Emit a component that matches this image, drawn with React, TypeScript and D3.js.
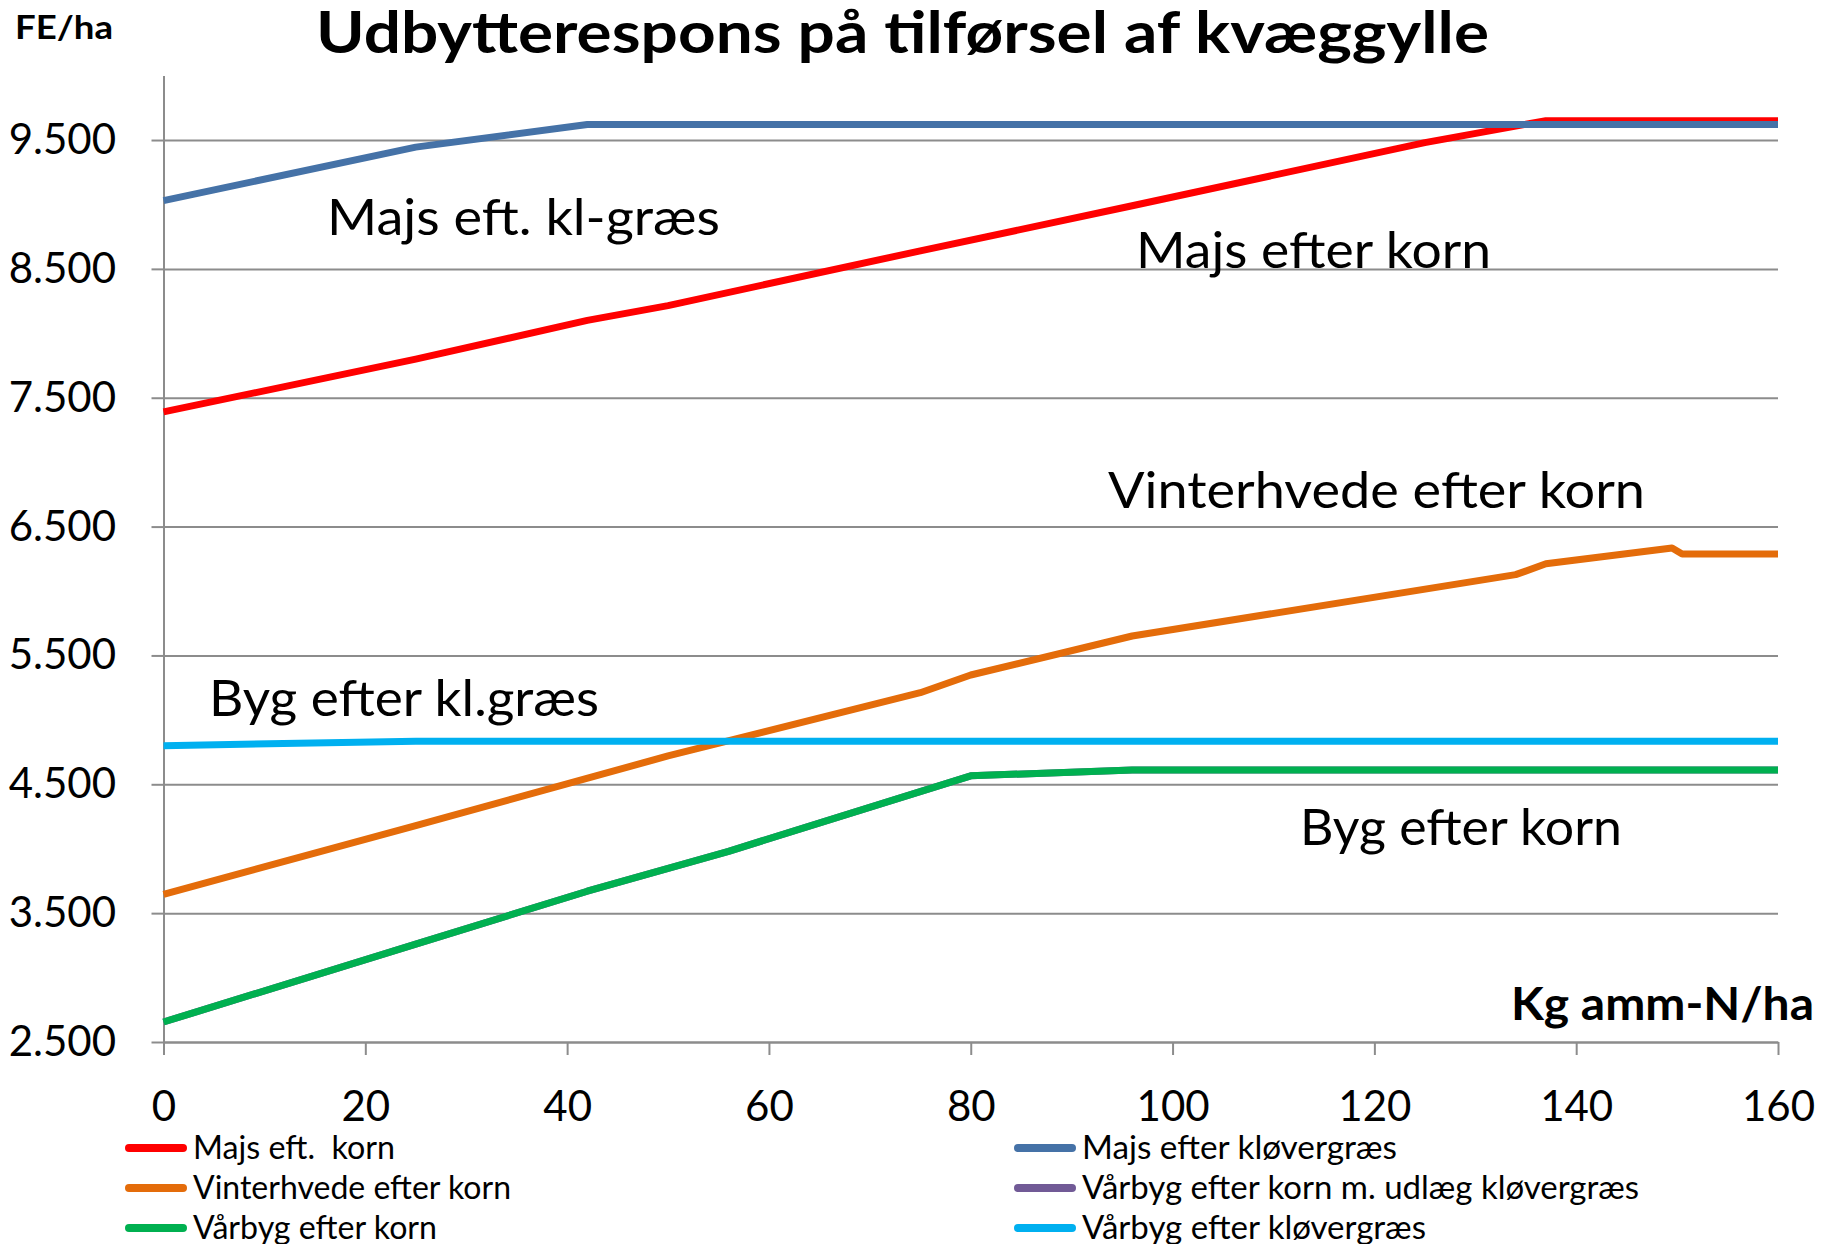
import React, { useEffect, useRef } from 'react';
import * as d3 from 'd3';

// Kg amm-N/ha (x) and FE/ha (y) for each crop
const majsKornX = [0, 25, 42, 50, 75, 96, 125, 137, 150, 160];
const majsKornY = [7390, 7800, 8100, 8215, 8640, 8990, 9480, 9650, 9650, 9650];

const majsKloverX = [0, 25, 42, 160];
const majsKloverY = [9030, 9445, 9620, 9620];

const hvedeKornX = [0, 25, 50, 75, 80, 96, 134, 137, 149.5, 150.5, 160];
const hvedeKornY = [3645, 4180, 4720, 5211, 5348, 5651, 6127, 6211, 6334, 6288, 6288];

const bygUdlaegX = [0, 25, 42, 56, 80, 96, 160];
const bygUdlaegY = [2655, 3260, 3670, 3980, 4566, 4611, 4611];

const bygKornX = [0, 25, 42, 56, 80, 96, 160];
const bygKornY = [2655, 3260, 3670, 3980, 4566, 4611, 4611];

const bygKloverX = [0, 25, 160];
const bygKloverY = [4800, 4835, 4835];

const seriesNames = [
  'Majs eft.  korn',
  'Majs efter kløvergræs',
  'Vinterhvede efter korn',
  'Vårbyg efter korn m. udlæg kløvergræs',
  'Vårbyg efter korn',
  'Vårbyg efter kløvergræs'
];
const seriesColors = ['#ff0000', '#4572a7', '#e46c0a', '#715a96', '#00b050', '#00b0f0'];

const xTicks = [0, 20, 40, 60, 80, 100, 120, 140, 160];
const yTicks = [2500, 3500, 4500, 5500, 6500, 7500, 8500, 9500];

const W = 1823;
const H = 1244;
const FONT = 'Lato, "Open Sans", sans-serif';

export default function App() {
  const node = useRef<SVGSVGElement | null>(null);

  useEffect(() => {
    const svg = d3.select(node.current);
    svg.selectAll('*').remove();

    const series = [
      { x: majsKornX, y: majsKornY },
      { x: majsKloverX, y: majsKloverY },
      { x: hvedeKornX, y: hvedeKornY },
      { x: bygUdlaegX, y: bygUdlaegY },
      { x: bygKornX, y: bygKornY },
      { x: bygKloverX, y: bygKloverY }
    ].map((s, i) => ({
      name: seriesNames[i],
      color: seriesColors[i],
      points: s.x.map((v, j) => [v, s.y[j]] as [number, number])
    }));

    const xScale = d3.scaleLinear().domain([0, 160]).range([163.5, 1778]);
    const yScale = d3.scaleLinear().domain([2500, 10000]).range([1042, 75.6]);
    const left = xScale.range()[0];
    const right = xScale.range()[1];
    const fmt = d3.formatLocale({ decimal: ',', thousands: '.', grouping: [3], currency: ['', ''] }).format(',');

    // gridlines
    const grid = svg
      .append('g')
      .attr('transform', `translate(${left},0)`)
      .call(d3.axisLeft(yScale).tickValues(yTicks).tickSize(-(right - left)).tickSizeOuter(0).tickFormat(() => ''));
    grid.select('.domain').remove();
    grid.selectAll('line').attr('stroke', '#8c8c8c').attr('stroke-width', 2);

    // y axis
    const yAxis = svg
      .append('g')
      .attr('transform', `translate(${left},0)`)
      .call(d3.axisLeft(yScale).tickValues(yTicks).tickSize(12).tickSizeOuter(0).tickFormat(d => fmt(d as number)));
    yAxis.select('.domain').attr('stroke', '#8c8c8c').attr('stroke-width', 2);
    yAxis.selectAll('line').attr('stroke', '#8c8c8c').attr('stroke-width', 2);
    yAxis
      .selectAll('text')
      .attr('x', 116 - left)
      .attr('dy', '0.32em')
      .attr('fill', '#000')
      .style('font-family', FONT)
      .style('font-size', '42px');

    // x axis
    const xAxis = svg
      .append('g')
      .attr('transform', `translate(0,${yScale(2500)})`)
      .call(d3.axisBottom(xScale).tickValues(xTicks).tickSize(13).tickSizeOuter(0));
    xAxis.select('.domain').attr('stroke', '#8c8c8c').attr('stroke-width', 2);
    xAxis.selectAll('line').attr('stroke', '#8c8c8c').attr('stroke-width', 2);
    xAxis
      .selectAll('text')
      .attr('y', 79)
      .attr('dy', null)
      .attr('fill', '#000')
      .style('font-family', FONT)
      .style('font-size', '42px');

    // series lines
    const line = d3
      .line<[number, number]>()
      .x(d => xScale(d[0]))
      .y(d => yScale(d[1]));
    svg
      .append('g')
      .selectAll('path')
      .data(series)
      .enter()
      .append('path')
      .attr('d', d => line(d.points))
      .attr('fill', 'none')
      .attr('stroke', d => d.color)
      .attr('stroke-width', 7)
      .attr('stroke-linejoin', 'round');

    const addText = (t: string, x: number, y: number, size: number, len: number, bold = false) =>
      svg
        .append('text')
        .attr('x', x)
        .attr('y', y)
        .attr('textLength', len)
        .attr('lengthAdjust', 'spacingAndGlyphs')
        .style('font-family', FONT)
        .style('font-size', `${size}px`)
        .style('font-weight', bold ? 700 : 400)
        .style('white-space', 'pre')
        .attr('fill', '#000')
        .text(t);

    // titles
    addText('Udbytterespons på tilførsel af kvæggylle', 316, 53, 58, 1173, true);
    addText('FE/ha', 15, 39, 32, 98, true);
    addText('Kg amm-N/ha', 1511, 1020, 45, 303, true);

    // labels inside the plot
    addText('Majs eft. kl-græs', 327, 235, 51, 393);
    addText('Majs efter korn', 1136, 268, 51, 355);
    addText('Vinterhvede efter korn', 1108, 508, 51, 537);
    addText('Byg efter kl.græs', 209, 716, 51, 390);
    addText('Byg efter korn', 1300, 845, 51, 322);

    // legend, filled row by row in two columns
    const legendCols = [129, 1018];
    const legendRows = [1148, 1188, 1228];
    const legendLens = [202, 315, 318, 557, 244, 344];
    series.forEach((s, i) => {
      const lx = legendCols[i % 2];
      const ly = legendRows[Math.floor(i / 2)];
      svg
        .append('line')
        .attr('x1', lx)
        .attr('x2', lx + 54)
        .attr('y1', ly)
        .attr('y2', ly)
        .attr('stroke', s.color)
        .attr('stroke-width', 8)
        .attr('stroke-linecap', 'round');
      addText(s.name, lx + 64, ly + 11, 33, legendLens[i]);
    });
  }, []);

  return (
    <svg
      ref={node}
      width={W}
      height={H}
      style={{ position: 'absolute', left: 0, top: 0, background: '#fff' }}
    />
  );
}
